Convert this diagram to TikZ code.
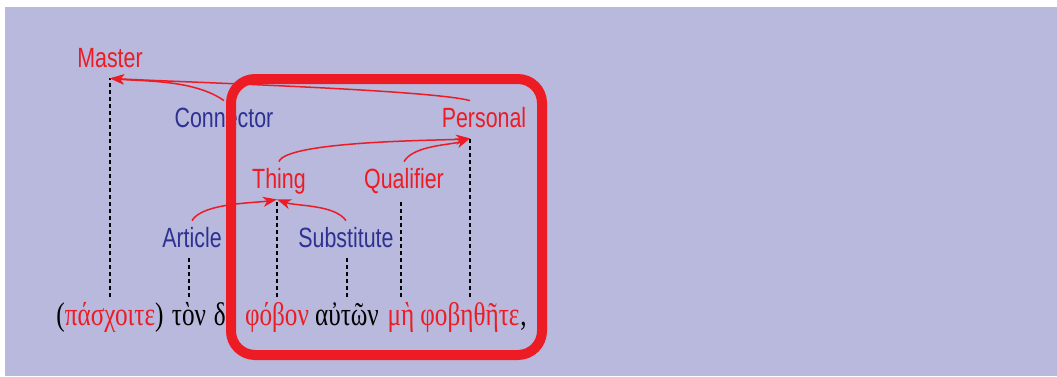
\documentclass[tikz,border=0pt]{standalone}
\usepackage{fontspec}
\setmainfont{Liberation Serif}
\newfontfamily\labelfont{Liberation Sans}
\newfontfamily\greekfont{Liberation Serif}
\usepackage{graphicx}
\usepackage{xcolor}
\usetikzlibrary{arrows.meta}
\definecolor{slred}{HTML}{ED1C24}
\definecolor{slblue}{HTML}{2E3192}
\definecolor{slback}{HTML}{B8B9DD}
\newcommand{\tall}[1]{\scalebox{1}[1.3]{#1}}

\begin{document}
\begin{tikzpicture}[x=0.5pt, y=0.5pt,
        lab/.style={font=\labelfont\fontsize{10.7pt}{12pt}\selectfont, anchor=base,
            text height=10pt, text depth=2.5pt, inner xsep=1pt, inner ysep=3pt},
        word/.style={font=\greekfont\fontsize{12.6pt}{14pt}\selectfont, anchor=base,
            inner sep=0pt, text height=14pt, text depth=3pt},
        link/.style={slred, line width=0.75pt, -{Stealth[length=7pt, width=5pt, inset=2pt]}},
        stem/.style={black, line width=0.6pt, dash pattern=on 2pt off 1.5pt},
        hilite/.style={slred, line width=5pt, rounded corners=12pt}]
        % Background
        \useasboundingbox (0, 0) rectangle (1057, 376);
        \fill [slback] (5, 0) rectangle (1057, 369);
        % Labels
        \node [lab, text=slred] (Master) at (110, 309) {\tall{Master}};
        \node [lab, text=slblue] (Connector) at (224, 249) {\tall{Connector}};
        \node [lab, text=slred] (Personal) at (484, 249) {\tall{Personal}};
        \node [lab, text=slred] (Thing) at (279, 188) {\tall{Thing}};
        \node [lab, text=slred] (Qualifier) at (404, 188) {\tall{Qualifier}};
        \node [lab, text=slblue] (Article) at (192, 129) {\tall{Article}};
        \node [lab, text=slblue] (Substitute) at (346, 129) {\tall{Substitute}};
        % Greek text
        \node [word] (pasch) at (110, 51) {\tall{(\textcolor{slred}{πάσχοιτε})}};
        \node [word] (ton) at (189, 51) {\tall{τὸν}};
        \node [word] (de) at (225, 51) {\tall{δὲ}};
        \node [word, text=slred] (phobon) at (277, 51) {\tall{φόβον}};
        \node [word] (auton) at (347, 51) {\tall{αὐτῶν}};
        \node [word, text=slred] (me) at (401, 51) {\tall{μὴ}};
        \node [word, text=slred] (phobethete) at (470, 51) {\tall{φοβηθῆτε}};
        \node [word, anchor=base west] (comma) at (phobethete.base east) {\tall{,}};
        % Stems
        \coordinate (dMaster) at (pasch.north |- Master.south);
        \coordinate (dPersonal) at (phobethete.north |- Personal.south);
        \coordinate (dThing) at (phobon.north |- Thing.south);
        \coordinate (dQualifier) at (me.north |- Qualifier.south);
        \coordinate (dArticle) at (ton.north |- Article.south);
        \coordinate (dSubstitute) at (auton.north |- Substitute.south);
        \draw [stem] (pasch.north) -- (dMaster);
        \draw [stem] (phobethete.north) -- (dPersonal);
        \draw [stem] (phobon.north) -- (dThing);
        \draw [stem] (me.north) -- (dQualifier);
        \draw [stem] (ton.north) -- (dArticle);
        \draw [stem] (auton.north) -- (dSubstitute);
        % Links
        \draw [link] (Connector.north) to [out=145, in=-5, looseness=0.8] (dMaster);
        \draw [link] (dPersonal |- Personal.north) to [out=165, in=-3, out looseness=0.3, in looseness=0.5] (dMaster);
        \draw [link] (Thing.north) to [out=70, in=185, out looseness=0.3, in looseness=0.3] (dPersonal);
        \draw [link] (Qualifier.north) to [out=60, in=200, looseness=0.7] (dPersonal);
        \draw [link] (Article.north) to [out=60, in=190, looseness=0.6] (dThing);
        \draw [link] (Substitute.north) to [out=125, in=-20, looseness=0.7] (dThing);
        % Highlight
        \draw [hilite] (231, 21) rectangle (542, 297);
    \end{tikzpicture}
\end{document}
